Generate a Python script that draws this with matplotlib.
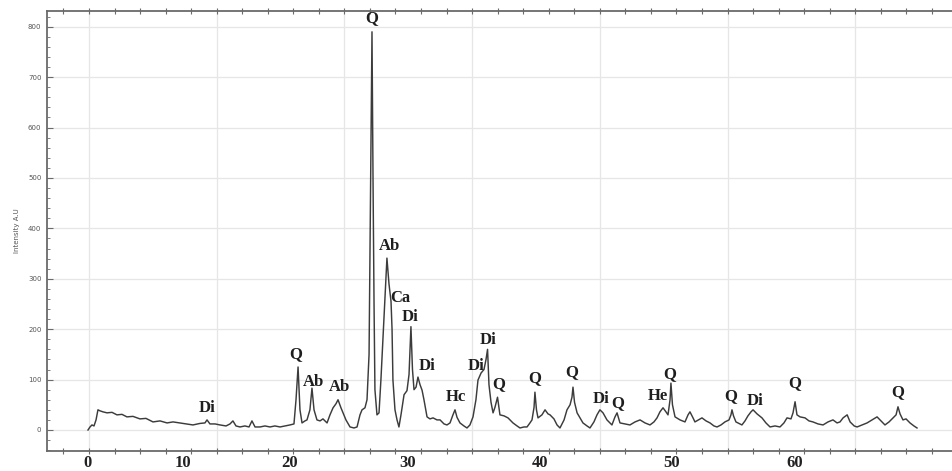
import numpy as np
import matplotlib
matplotlib.use("Agg")
import matplotlib.pyplot as plt
from matplotlib.ticker import MultipleLocator

# ---- data (2-theta, intensity) ----
two_theta = [
    4.36, 4.52, 4.67, 4.83, 4.99, 5.14, 5.30, 5.53, 5.85, 6.24, 6.63, 7.02, 7.41, 7.88,
    8.43, 8.90, 9.45, 10.00, 10.55, 11.02, 11.56, 12.11, 12.58, 13.13, 13.52, 13.68,
    13.91, 14.31, 14.70, 15.17, 15.48, 15.71, 15.95, 16.26, 16.65, 16.97, 17.20, 17.44,
    17.83, 18.22, 18.61, 19.00, 19.40, 19.79, 20.18, 20.49, 20.65, 20.81, 20.96, 21.12,
    21.35, 21.51, 21.74, 21.90, 22.06, 22.29, 22.53, 22.76, 23.08, 23.31, 23.55, 23.78,
    23.94, 24.17, 24.33, 24.56, 24.88, 25.19, 25.43, 25.66, 25.82, 26.05, 26.21, 26.37,
    26.48, 26.60, 26.68, 26.76, 26.83, 26.99, 27.15, 27.30, 27.46, 27.62, 27.77, 27.93,
    28.09, 28.17, 28.24, 28.40, 28.56, 28.71, 28.87, 29.11, 29.34, 29.50, 29.65, 29.77,
    29.89, 30.05, 30.20, 30.36, 30.52, 30.67, 30.91, 31.14, 31.38, 31.69, 31.93, 32.24,
    32.47, 32.71, 32.94, 33.10, 33.26, 33.49, 33.80, 34.04, 34.27, 34.51, 34.74, 34.90,
    35.14, 35.37, 35.53, 35.65, 35.76, 35.92, 36.08, 36.23, 36.43, 36.62, 36.94, 37.25,
    37.64, 37.96, 38.19, 38.50, 38.74, 38.97, 39.13, 39.29, 39.36, 39.48, 39.60, 39.91,
    40.15, 40.38, 40.54, 40.85, 41.09, 41.32, 41.64, 41.87, 42.11, 42.26, 42.34, 42.46,
    42.66, 42.89, 43.12, 43.44, 43.67, 43.98, 44.22, 44.45, 44.69, 45.00, 45.39, 45.63,
    45.79, 46.02, 46.41, 46.80, 47.20, 47.59, 47.98, 48.37, 48.68, 48.92, 49.15, 49.39,
    49.62, 49.78, 49.94, 50.01, 50.13, 50.33, 50.72, 51.11, 51.35, 51.50, 51.74, 51.89,
    52.29, 52.44, 52.76, 53.07, 53.38, 53.62, 53.93, 54.24, 54.56, 54.71, 54.79, 54.91,
    55.10, 55.42, 55.57, 55.81, 56.04, 56.28, 56.44, 56.75, 57.14, 57.45, 57.77, 58.16,
    58.55, 58.86, 59.10, 59.41, 59.57, 59.73, 59.88, 60.12, 60.51, 60.82, 61.13, 61.53,
    61.92, 62.31, 62.70, 63.02, 63.25, 63.49, 63.81, 64.04, 64.36, 64.59, 64.98, 65.37,
    65.76, 66.15, 66.46, 66.77, 67.09, 67.40, 67.64, 67.79, 67.95, 68.18, 68.42, 68.73,
    69.04, 69.28,
]
intensity = [
    0, 6, 10, 8, 20, 40, 38, 36, 34, 35, 30, 31, 26, 27,
    22, 23, 16, 18, 14, 16, 14, 12, 10, 13, 14, 20,
    12, 12, 10, 8, 12, 18, 8, 6, 8, 6, 18, 6,
    6, 8, 6, 8, 6, 8, 10, 12, 60, 125, 40, 14,
    18, 20, 40, 83, 40, 20, 18, 22, 14, 30, 44, 52,
    60, 44, 34, 20, 6, 4, 6, 30, 40, 44, 60, 150,
    450, 790, 500, 250, 80, 30, 34, 100, 180, 264, 341, 290,
    255, 200, 99, 40, 20, 6, 30, 70, 78, 110, 205, 120,
    80, 85, 105, 90, 79, 60, 26, 22, 24, 20, 20, 12,
    10, 14, 30, 40, 25, 14, 8, 4, 10, 26, 60, 99,
    113, 120, 140, 160, 90, 55, 34, 45, 65, 30, 28, 24,
    14, 8, 4, 6, 6, 14, 20, 45, 75, 40, 24, 30,
    40, 32, 30, 22, 10, 4, 20, 40, 50, 65, 85, 55,
    34, 24, 14, 8, 4, 16, 30, 40, 34, 20, 10, 26,
    34, 14, 12, 10, 16, 20, 14, 10, 16, 24, 36, 44,
    36, 30, 60, 93, 50, 26, 20, 16, 30, 36, 24, 16,
    22, 24, 18, 14, 8, 6, 10, 16, 20, 30, 40, 28,
    16, 12, 10, 18, 28, 36, 40, 32, 24, 14, 6, 8,
    6, 14, 24, 22, 34, 56, 30, 26, 24, 18, 16, 12,
    10, 16, 20, 14, 16, 24, 30, 16, 8, 6, 10, 14,
    20, 26, 18, 10, 16, 24, 30, 46, 32, 20, 22, 14,
    8, 4,
]

# phase labels: text, 2-theta, intensity of label centre
peak_labels = ["Q", "Di", "Q", "Ab", "Ab", "Ab", "Ca", "Di", "Di", "Hc", "Di", "Di",
               "Q", "Q", "Q", "Di", "Q", "He", "Q", "Q", "Di", "Q", "Q"]
peak_x = [26.6, 13.68, 20.65, 21.98, 24.09, 28.0, 28.79, 29.58, 30.91, 33.18, 34.74, 35.68,
          36.55, 39.36, 42.26, 44.53, 45.86, 48.99, 49.94, 54.71, 56.60, 59.73, 67.79]
peak_y = [817, 44, 151, 95, 85, 365, 262, 224, 127, 65, 127, 179,
          91, 103, 115, 62, 54, 67, 111, 67, 58, 93, 75]

# x tick labels as printed on the reference, and where they sit along the axis
xtick_labels = ["0", "10", "20", "30", "40", "50", "60"]
xtick_at = [4.36, 11.8, 20.18, 29.42, 39.76, 50.09, 59.72]

# ---- figure ----
fig = plt.figure(figsize=(9.52, 4.71), dpi=100)
ax = fig.add_axes([47 / 952, 20 / 471, 905 / 952, 440 / 471])

spine_col = "#6a6a6a"
grid_col = "#e6e6e6"

ax.set_xlim(1.15, 72.02)
ax.set_ylim(-41.7, 831.3)

for gx in np.arange(4.44, 72, 10):
    ax.axvline(gx, color=grid_col, lw=0.9, zorder=0)
ax.yaxis.set_major_locator(MultipleLocator(100))
ax.yaxis.set_minor_locator(MultipleLocator(20))
ax.grid(axis="y", which="major", color=grid_col, lw=0.9, zorder=0)

ax.plot(two_theta, intensity, color="#3c3c3c", lw=1.05, zorder=3)

serif = ["Liberation Serif", "DejaVu Serif"]
for t, px, py in zip(peak_labels, peak_x, peak_y):
    ax.text(px, py, t, ha="center", va="center", fontsize=12, fontweight="bold",
            family=serif, color="#1e1e1e", zorder=4)

ax.set_xticks(xtick_at, xtick_labels)
ax.xaxis.set_minor_locator(MultipleLocator(2, offset=0.44))
ax.tick_params(axis="x", which="major", length=0, pad=3, labelsize=12, labelcolor="#222222")
for lab in ax.get_xticklabels():
    lab.set_family(serif)
    lab.set_fontweight("bold")
ax.tick_params(axis="x", which="minor", direction="inout", length=4, width=0.8,
               color=spine_col, top=True, bottom=True)
ax.tick_params(axis="y", which="major", direction="in", length=4, width=0.8,
               color=spine_col, labelsize=5, labelcolor="#555555", pad=4)
ax.tick_params(axis="y", which="minor", direction="in", length=2, width=0.6, color=spine_col)

ax.set_ylabel("Intensity A.U", fontsize=5, color="#555555", labelpad=6)

for s in ["left", "top", "bottom"]:
    ax.spines[s].set_color(spine_col)
    ax.spines[s].set_linewidth(1.3)
ax.spines["right"].set_visible(False)

fig.savefig("out.png", dpi=100)
